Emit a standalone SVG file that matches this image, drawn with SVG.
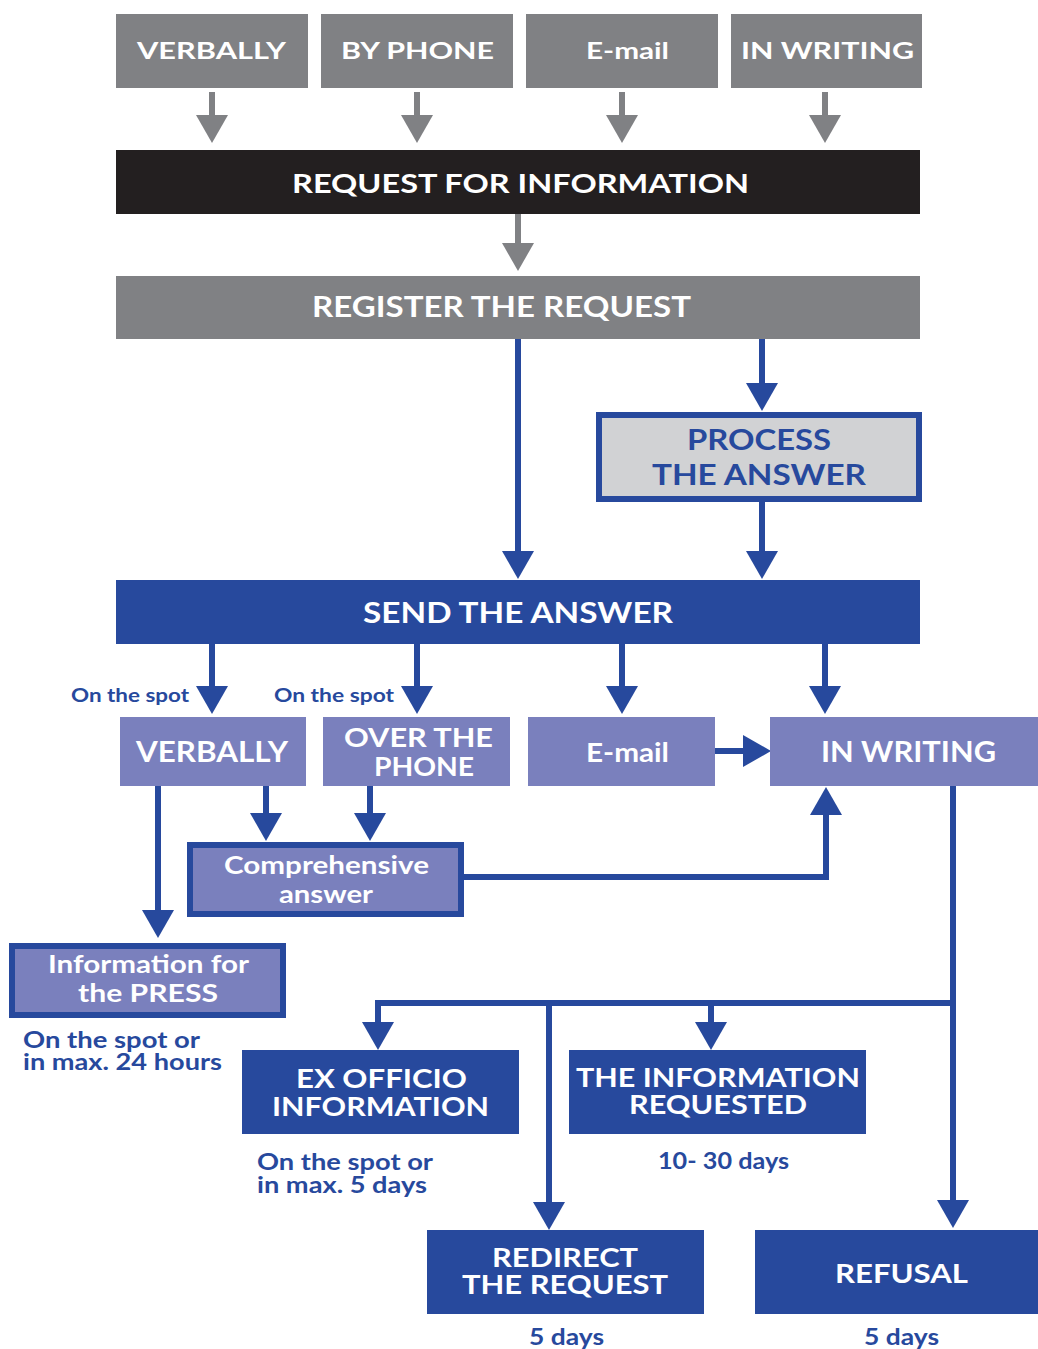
<svg xmlns="http://www.w3.org/2000/svg" width="1038" height="1349" viewBox="0 0 1038 1349">
<defs>
<style>
.t{font-family:"Lato","Liberation Sans",sans-serif;font-weight:bold;text-anchor:start;}
.w{fill:#ffffff;}
.b{fill:#27499d;}
.grey{fill:#808184;}
.blk{fill:#231f20;}
.blue{fill:#27499d;}
.lav{fill:#7a80bd;}
.gl{stroke:#808184;stroke-width:6;fill:none;}
.bl{stroke:#27499d;stroke-width:6;fill:none;}
.bx{fill:#7a80bd;stroke:#27499d;stroke-width:6;}
</style>
<marker id="ag" viewBox="0 0 28 32" refX="0" refY="16" markerWidth="28" markerHeight="32" markerUnits="userSpaceOnUse" orient="auto"><path d="M0,0 L28,16 L0,32 z" fill="#808184"/></marker>
<marker id="ab" viewBox="0 0 28 32" refX="0" refY="16" markerWidth="28" markerHeight="32" markerUnits="userSpaceOnUse" orient="auto"><path d="M0,0 L28,16 L0,32 z" fill="#27499d"/></marker>
</defs>
<rect width="1038" height="1349" fill="#ffffff"/>

<g id="connectors">
<path class="gl" d="M212,92 V115" marker-end="url(#ag)"/>
<path class="gl" d="M417,92 V115" marker-end="url(#ag)"/>
<path class="gl" d="M622,92 V115" marker-end="url(#ag)"/>
<path class="gl" d="M825,92 V115" marker-end="url(#ag)"/>
<path class="gl" d="M518,214 V243" marker-end="url(#ag)"/>
<path class="bl" d="M518,339 V551" marker-end="url(#ab)"/>
<path class="bl" d="M762,339 V383" marker-end="url(#ab)"/>
<path class="bl" d="M762,502 V551" marker-end="url(#ab)"/>
<path class="bl" d="M212,644 V686" marker-end="url(#ab)"/>
<path class="bl" d="M417,644 V686" marker-end="url(#ab)"/>
<path class="bl" d="M622,644 V686" marker-end="url(#ab)"/>
<path class="bl" d="M825,644 V686" marker-end="url(#ab)"/>
<path class="bl" d="M715,751 H743" marker-end="url(#ab)"/>
<path class="bl" d="M158,786 V910" marker-end="url(#ab)"/>
<path class="bl" d="M266,786 V813" marker-end="url(#ab)"/>
<path class="bl" d="M370,786 V813" marker-end="url(#ab)"/>
<path class="bl" d="M464,877 H826 V815" marker-end="url(#ab)"/>
<path class="bl" d="M953,786 V1200" marker-end="url(#ab)"/>
<path class="bl" d="M953,1003 H378 V1022" marker-end="url(#ab)"/>
<path class="bl" d="M711,1003 V1022" marker-end="url(#ab)"/>
<path class="bl" d="M549,1003 V1202" marker-end="url(#ab)"/>
</g>

<g id="verbally-in"><rect class="grey" x="116" y="14" width="192" height="74"/><text class="t w" x="137" y="59" font-size="22" textLength="149" lengthAdjust="spacingAndGlyphs">VERBALLY</text></g>
<g id="phone-in"><rect class="grey" x="321" y="14" width="192" height="74"/><text class="t w" x="341" y="59" font-size="22" textLength="153" lengthAdjust="spacingAndGlyphs">BY PHONE</text></g>
<g id="email-in"><rect class="grey" x="526" y="14" width="192" height="74"/><text class="t w" x="586" y="59" font-size="22" textLength="83" lengthAdjust="spacingAndGlyphs">E-mail</text></g>
<g id="writing-in"><rect class="grey" x="731" y="14" width="191" height="74"/><text class="t w" x="741" y="59" font-size="22" textLength="173" lengthAdjust="spacingAndGlyphs">IN WRITING</text></g>

<g id="request"><rect class="blk" x="116" y="150" width="804" height="64"/><text class="t w" x="292" y="193" font-size="27" textLength="457" lengthAdjust="spacingAndGlyphs">REQUEST FOR INFORMATION</text></g>
<g id="register"><rect class="grey" x="116" y="276" width="804" height="63"/><text class="t w" x="312" y="317" font-size="28" textLength="379" lengthAdjust="spacingAndGlyphs">REGISTER THE REQUEST</text></g>

<g id="process"><rect x="599" y="415" width="320" height="84" fill="#d1d2d4" stroke="#27499d" stroke-width="6"/><text class="t b" x="687" y="450" font-size="28" textLength="144" lengthAdjust="spacingAndGlyphs">PROCESS</text><text class="t b" x="652" y="485" font-size="28" textLength="214" lengthAdjust="spacingAndGlyphs">THE ANSWER</text></g>

<g id="send"><rect class="blue" x="116" y="580" width="804" height="64"/><text class="t w" x="363" y="623" font-size="28" textLength="310" lengthAdjust="spacingAndGlyphs">SEND THE ANSWER</text></g>

<g id="labels-spot">
<text class="t b" x="71" y="702" font-size="19" textLength="118" lengthAdjust="spacingAndGlyphs">On the spot</text>
<text class="t b" x="274" y="702" font-size="19" textLength="120" lengthAdjust="spacingAndGlyphs">On the spot</text>
</g>

<g id="verbally-out"><rect class="lav" x="120" y="717" width="186" height="69"/><text class="t w" x="136" y="762" font-size="28" textLength="152" lengthAdjust="spacingAndGlyphs">VERBALLY</text></g>
<g id="phone-out"><rect class="lav" x="323" y="717" width="187" height="69"/><text class="t w" x="344" y="747" font-size="26" textLength="149" lengthAdjust="spacingAndGlyphs">OVER THE</text><text class="t w" x="374" y="776" font-size="26" textLength="100" lengthAdjust="spacingAndGlyphs">PHONE</text></g>
<g id="email-out"><rect class="lav" x="528" y="717" width="187" height="69"/><text class="t w" x="586" y="762" font-size="27" textLength="83" lengthAdjust="spacingAndGlyphs">E-mail</text></g>
<g id="writing-out"><rect class="lav" x="770" y="717" width="268" height="69"/><text class="t w" x="821" y="762" font-size="28" textLength="175" lengthAdjust="spacingAndGlyphs">IN WRITING</text></g>

<g id="comprehensive"><rect class="bx" x="190" y="845" width="271" height="69"/><text class="t w" x="224" y="874" font-size="24" textLength="205" lengthAdjust="spacingAndGlyphs">Comprehensive</text><text class="t w" x="279" y="903" font-size="24" textLength="94" lengthAdjust="spacingAndGlyphs">answer</text></g>

<g id="press"><rect class="bx" x="12" y="946" width="271" height="69"/><text class="t w" x="48" y="973" font-size="25" textLength="201" lengthAdjust="spacingAndGlyphs">Information for</text><text class="t w" x="78" y="1002" font-size="25" textLength="140" lengthAdjust="spacingAndGlyphs">the PRESS</text></g>
<g id="press-note"><text class="t b" x="23" y="1048" font-size="22" textLength="177" lengthAdjust="spacingAndGlyphs">On the spot or</text><text class="t b" x="23" y="1070" font-size="22" textLength="199" lengthAdjust="spacingAndGlyphs">in max. 24 hours</text></g>

<g id="exofficio"><rect class="blue" x="242" y="1050" width="277" height="84"/><text class="t w" x="296" y="1088" font-size="26" textLength="171" lengthAdjust="spacingAndGlyphs">EX OFFICIO</text><text class="t w" x="272" y="1116" font-size="26" textLength="217" lengthAdjust="spacingAndGlyphs">INFORMATION</text></g>
<g id="exofficio-note"><text class="t b" x="257" y="1170" font-size="22" textLength="176" lengthAdjust="spacingAndGlyphs">On the spot or</text><text class="t b" x="257" y="1193" font-size="22" textLength="170" lengthAdjust="spacingAndGlyphs">in max. 5 days</text></g>

<g id="requested"><rect class="blue" x="569" y="1050" width="297" height="84"/><text class="t w" x="576" y="1087" font-size="27" textLength="284" lengthAdjust="spacingAndGlyphs">THE INFORMATION</text><text class="t w" x="629" y="1114" font-size="27" textLength="178" lengthAdjust="spacingAndGlyphs">REQUESTED</text></g>
<g id="requested-note"><text class="t b" x="658" y="1169" font-size="22" textLength="131" lengthAdjust="spacingAndGlyphs">10- 30 days</text></g>

<g id="redirect"><rect class="blue" x="427" y="1230" width="277" height="84"/><text class="t w" x="492" y="1267" font-size="26" textLength="146" lengthAdjust="spacingAndGlyphs">REDIRECT</text><text class="t w" x="462" y="1294" font-size="26" textLength="206" lengthAdjust="spacingAndGlyphs">THE REQUEST</text></g>
<g id="redirect-note"><text class="t b" x="529" y="1345" font-size="22" textLength="75" lengthAdjust="spacingAndGlyphs">5 days</text></g>

<g id="refusal"><rect class="blue" x="755" y="1230" width="283" height="84"/><text class="t w" x="835" y="1283" font-size="27" textLength="133" lengthAdjust="spacingAndGlyphs">REFUSAL</text></g>
<g id="refusal-note"><text class="t b" x="864" y="1345" font-size="22" textLength="75" lengthAdjust="spacingAndGlyphs">5 days</text></g>
</svg>
